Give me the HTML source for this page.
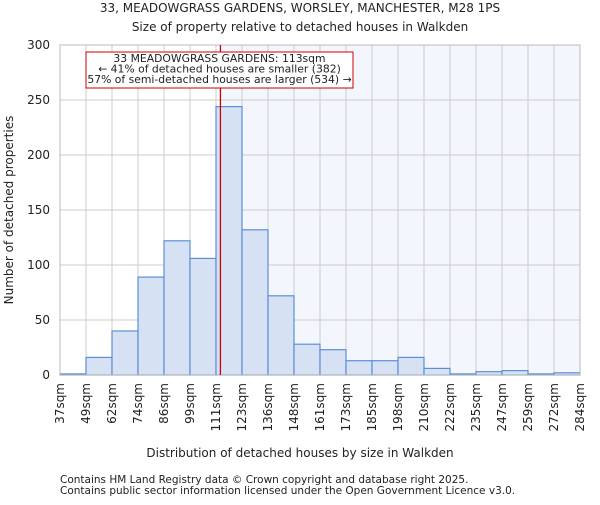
<!DOCTYPE html>
<html><head><meta charset="utf-8"><style>
body{margin:0;background:#fff;}
svg text{font-family:"DejaVu Sans","Liberation Sans",sans-serif;fill:#222;}
</style></head><body>
<svg id="chart" width="600" height="500">
<text x="300" y="12" font-size="12" text-anchor="middle">33, MEADOWGRASS GARDENS, WORSLEY, MANCHESTER, M28 1PS</text>
<text x="300" y="31" font-size="12" text-anchor="middle">Size of property relative to detached houses in Walkden</text>
<g id="plot"></g>
<text x="300" y="457" font-size="12" text-anchor="middle">Distribution of detached houses by size in Walkden</text>
<text transform="translate(13,210) rotate(-90)" font-size="12" text-anchor="middle">Number of detached properties</text>
<text x="60" y="483" font-size="10.5">Contains HM Land Registry data © Crown copyright and database right 2025.</text>
<text x="60" y="494" font-size="10.5">Contains public sector information licensed under the Open Government Licence v3.0.</text>
</svg>
<script>
const binLabels=["37sqm","49sqm","62sqm","74sqm","86sqm","99sqm","111sqm","123sqm","136sqm","148sqm","161sqm","173sqm","185sqm","198sqm","210sqm","222sqm","235sqm","247sqm","259sqm","272sqm","284sqm"];
const counts=[1,16,40,89,122,106,244,132,72,28,23,13,13,16,6,1,3,4,1,2];
const yTicks=[0,50,100,150,200,250,300];
const propertyBinPos=6.17;
const NS="http://www.w3.org/2000/svg";
const g=document.getElementById('plot');
const X0=60,X1=580,Y0=375,Y1=45,yMax=300;
const bw=(X1-X0)/counts.length;
const xs=i=>X0+i*bw;
const ys=v=>Y0-(v/yMax)*(Y0-Y1);
function mk(t,a){const e=document.createElementNS(NS,t);for(const k in a)e.setAttribute(k,a[k]);g.appendChild(e);return e;}
const lx=xs(propertyBinPos);
let e=mk('rect',{x:lx,y:Y1,width:X1-lx,height:Y0-Y1,fill:'#f3f6fd'});


yTicks.forEach(t=>{
 let l=mk('line',{x1:X0,x2:X1,y1:ys(t),y2:ys(t),stroke:'#cccccc'});
 
 
 let tx=mk('text',{x:X0-10,y:ys(t)+4,'font-size':12,'text-anchor':'end'});tx.textContent=t;
 
 
});
binLabels.forEach((s,i)=>{
 let l=mk('line',{x1:xs(i),x2:xs(i),y1:Y1,y2:Y0,stroke:'#cccccc'});
 
 
 let tx=mk('text',{transform:`translate(${xs(i)+4},${Y0+8}) rotate(-90)`,'font-size':12,'text-anchor':'end'});tx.textContent=s;
 
 
});
counts.forEach((c,i)=>{
 let r=mk('rect',{x:xs(i),y:ys(c),width:bw,height:Y0-ys(c),fill:'#d6e1f3',stroke:'#5b8fd6','stroke-width':1.2});
 
 
});
let ax=mk('rect',{x:X0,y:Y1,width:X1-X0,height:Y0-Y1,fill:'none',stroke:'#bbbbbb'});


let rl=mk('line',{x1:lx,x2:lx,y1:Y1,y2:Y0,stroke:'#cc0000','stroke-width':1.3});


let box=mk('rect',{x:86,y:52,width:267,height:36,fill:'#fff',stroke:'#cc0000'});


["33 MEADOWGRASS GARDENS: 113sqm","← 41% of detached houses are smaller (382)","57% of semi-detached houses are larger (534) →"].forEach((s,i)=>{
 let t=mk('text',{x:219.5,y:62+i*10.5,'font-size':10.8,'text-anchor':'middle'});t.textContent=s;
 
 
});
</script>
</body></html>
